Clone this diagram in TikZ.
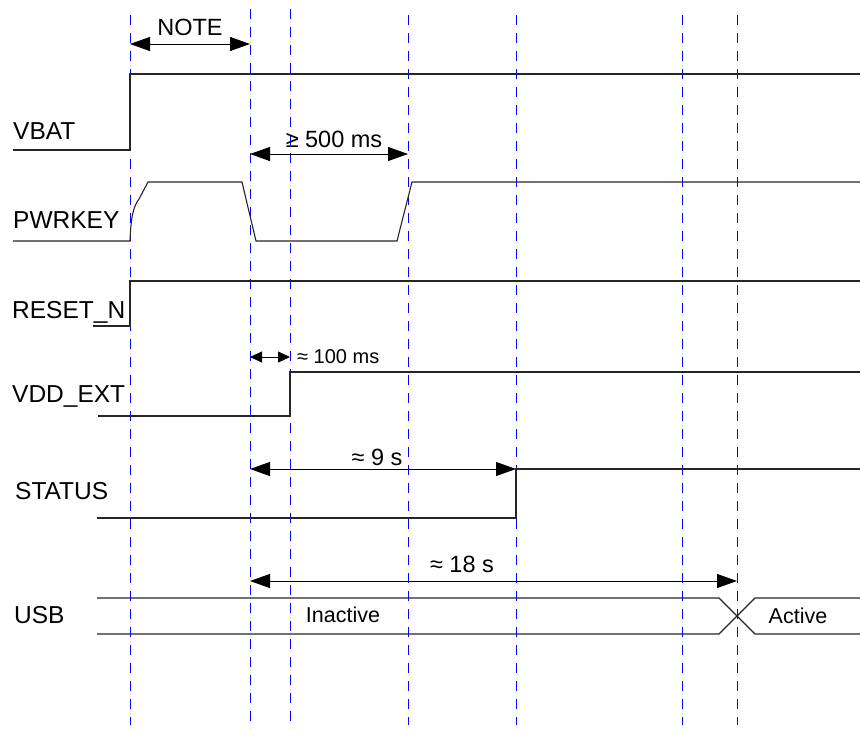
\documentclass[tikz,border=0pt]{standalone}
\usepackage{fontspec}
\setmainfont{Liberation Sans}
\usetikzlibrary{positioning,arrows.meta}

\begin{document}
\begin{tikzpicture}[x=1pt,y=-1pt,
signal/.style={black!85, line width=1.1pt},
marker/.style={blue, line width=0.9pt, dash pattern=on 10pt off 8pt},
timearrow/.style={{Triangle[length=20pt,width=14pt]}-{Triangle[length=20pt,width=14pt]}, line width=0.9pt},
shortarrow/.style={{Triangle[length=12pt,width=11pt]}-{Triangle[length=12pt,width=11pt]}, line width=0.9pt},
siglabel/.style={anchor=base west, inner sep=0pt, font=\fontsize{24.5}{28}\selectfont},
timelabel/.style={anchor=base, inner sep=0pt, font=\fontsize{23.5}{27}\selectfont},
statelabel/.style={anchor=base, inner sep=0pt, font=\fontsize{21.5}{25}\selectfont},
]
\useasboundingbox (0,0) rectangle (860,729);

%Markers
\foreach \x in {130,408,516,682,737}
  \draw[marker] (\x,15) -- (\x,725);
\foreach \x in {250,290}
  \draw[marker] (\x,9) -- (\x,729);

%Signal names
\node[siglabel] (vbat)   at (13,139) {VBAT};
\node[siglabel] (pwrkey) at (13,228) {PWRKEY};
\node[siglabel] (resetn) at (12,318) {RESET\_N};
\node[siglabel] (vddext) at (12,402) {VDD\_EXT};
\node[siglabel] (status) at (15,499) {STATUS};
\node[siglabel] (usb)    at (14,623) {USB};

%Waveforms
\draw[signal] (13,150) -- (130,150) -- (130,74) -- (860,74);
\draw[signal] (13,241) -- (130,241) .. controls (131,214) and (134,206) .. (139,199)
  -- (148,182) -- (242,182) -- (256,241) -- (397,241) -- (412,182) -- (860,182);
\draw[signal] (93,326) -- (130,326) -- (130,281) -- (860,281);
\draw[signal] (98,416) -- (290,416) -- (290,372) -- (860,372);
\draw[signal] (97,518) -- (516,518) -- (516,469) -- (860,469);
\draw[signal] (97,598) -- (719,598) -- (755,634) -- (860,634);
\draw[signal] (97,634) -- (719,634) -- (755,598) -- (860,598);
\node[statelabel] (inactive) at (343,622) {Inactive};
\node[statelabel] (active)   at (798,623) {Active};

%Timing ends
\coordinate (noteL)  at (130,44);
\coordinate (noteR)  at (250,44);
\coordinate (keyL)   at (250,154);
\coordinate (keyR)   at (408,154);
\coordinate (extL)   at (250,357);
\coordinate (extR)   at (290,357);
\coordinate (statL)  at (250,469);
\coordinate (statR)  at (516,469);
\coordinate (usbL)   at (250,581);
\coordinate (usbR)   at (737,581);

%Timing arrows
\draw[timearrow] (noteL) -- (noteR);
\draw[timearrow] (keyL) -- (keyR);
\draw[shortarrow] (extL) -- (extR);
\draw[timearrow] (statL) -- (statR);
\draw[timearrow] (usbL) -- (usbR);

\node[timelabel] (note)  at (190,35)  {NOTE};
\node[timelabel] (t500)  at (334,147) {≥ 500 ms};
\node[anchor=base west, inner sep=0pt, font=\fontsize{20}{24}\selectfont] (t100) at (297,363) {≈ 100 ms};
\node[timelabel] (t9)    at (377,465) {≈ 9 s};
\node[timelabel] (t18)   at (462,572) {≈ 18 s};
\end{tikzpicture}
\end{document}
